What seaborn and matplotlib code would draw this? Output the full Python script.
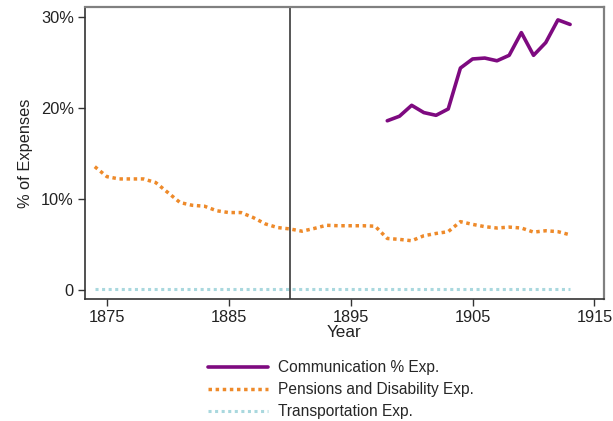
import matplotlib
matplotlib.use("Agg")
import matplotlib.pyplot as plt
import seaborn as sns
import pandas as pd

sns.set_theme(style="white")
plt.rcParams["font.family"] = ["Liberation Sans", "DejaVu Sans"]

# Share of total expenses (%), by year
comm_years = list(range(1898, 1914))
comm_pct = [18.6, 19.1, 20.3, 19.5, 19.2, 19.9, 24.4, 25.4, 25.5, 25.2,
            25.8, 28.3, 25.8, 27.2, 29.7, 29.2]

pens_years = list(range(1874, 1914))
pens_pct = [13.55, 12.45, 12.2, 12.2, 12.2, 11.8, 10.7, 9.6, 9.3, 9.2,
            8.7, 8.5, 8.5, 7.95, 7.25, 6.85, 6.7, 6.45, 6.75, 7.1,
            7.05, 7.05, 7.05, 7.0, 5.65, 5.55, 5.4, 5.95, 6.2, 6.4,
            7.5, 7.2, 6.95, 6.8, 6.9, 6.8, 6.35, 6.5, 6.4, 6.05]

trans_years = list(range(1874, 1914))
trans_pct = [0.1, 0.1, 0.1, 0.1, 0.1, 0.1, 0.1, 0.1, 0.1, 0.1,
             0.1, 0.1, 0.1, 0.1, 0.1, 0.1, 0.1, 0.1, 0.1, 0.1,
             0.1, 0.1, 0.1, 0.1, 0.1, 0.1, 0.1, 0.1, 0.1, 0.1,
             0.1, 0.1, 0.1, 0.1, 0.1, 0.1, 0.1, 0.1, 0.1, 0.1]

event_year = 1890
x_ticks = [1875, 1885, 1895, 1905, 1915]
y_ticks = [0, 10, 20, 30]
y_tick_labels = ["0", "10%", "20%", "30%"]

comm = pd.DataFrame({"Year": comm_years, "pct": comm_pct})
pens = pd.DataFrame({"Year": pens_years, "pct": pens_pct})
trans = pd.DataFrame({"Year": trans_years, "pct": trans_pct})

fig = plt.figure(figsize=(6.13, 4.21), dpi=100)
ax = fig.add_axes([0.1387, 0.29, 0.846, 0.693])

sns.lineplot(data=comm, x="Year", y="pct", ax=ax, color="#7E0A80",
             linewidth=2.6, label="Communication % Exp.")
sns.lineplot(data=pens, x="Year", y="pct", ax=ax, color="#EE8A2A",
             linewidth=2.5, linestyle=(0, (1, 1.05)),
             label="Pensions and Disability Exp.")
sns.lineplot(data=trans, x="Year", y="pct", ax=ax, color="#A9D8DE",
             linewidth=2.2, linestyle=(0, (1, 1.15)),
             label="Transportation Exp.")

ax.axvline(event_year, color="#3a3a3a", linewidth=1.2)

ax.set_xlim(1873.2, 1915.75)
ax.set_ylim(-1.0, 31.1)
ax.set_xticks(x_ticks)
ax.set_yticks(y_ticks)
ax.set_yticklabels(y_tick_labels)
ax.tick_params(axis="both", which="major", direction="out", length=5,
               width=1, color="#333333", labelsize=11.8, labelcolor="#222222",
               left=True, bottom=True, pad=3)
ax.set_xlabel("Year", fontsize=12.3, color="#222222", labelpad=0)
ax.set_ylabel("% of Expenses", fontsize=11.8, color="#222222", labelpad=6)

for side in ["left", "bottom"]:
    ax.spines[side].set_color("#333333")
    ax.spines[side].set_linewidth(1.2)
for side in ["top", "right"]:
    ax.spines[side].set_color("#808080")
    ax.spines[side].set_linewidth(1.6)

ax.legend_.remove()
handles, labels = ax.get_legend_handles_labels()
fig.legend(handles, labels, loc="upper left",
           bbox_to_anchor=(208 / 613, 1 - 360 / 421), frameon=False,
           fontsize=11.2, handlelength=3.85, handletextpad=0.65,
           labelspacing=0.45, borderpad=0, borderaxespad=0)

fig.savefig("out.png", dpi=100)
